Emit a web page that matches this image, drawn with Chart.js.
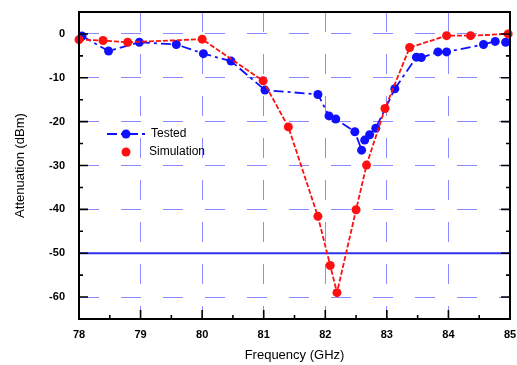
<!DOCTYPE html>
<html lang="en">
<head>
<meta charset="UTF-8">
<title>Attenuation vs Frequency</title>
<style>
  html, body { margin: 0; padding: 0; background: #fff; }
  #wrap { width: 517px; height: 365px; }
</style>
</head>
<body>
<div id="wrap"><canvas id="myChart" width="517" height="365"></canvas></div>

<script src="https://cdn.jsdelivr.net/npm/chart.js@4.4.1/dist/chart.umd.min.js"></script>
<script>
var testedFreq = [78.05, 78.48, 78.98, 79.58, 80.02, 80.47, 81.02, 81.88, 82.06, 82.17, 82.48, 82.59, 82.64, 82.72, 82.82, 83.13, 83.48, 83.56, 83.83, 83.97, 84.57, 84.76, 84.93];
var testedAtt  = [-0.5, -3.9, -1.9, -2.4, -4.5, -6.2, -12.8, -13.8, -18.7, -19.4, -22.3, -26.5, -24.2, -23.0, -21.5, -12.5, -5.3, -5.4, -4.1, -4.1, -2.4, -1.7, -1.9];

var simFreq = [78.0, 78.39, 78.79, 80.0, 80.99, 81.40, 81.88, 82.08, 82.19, 82.50, 82.67, 82.97, 83.37, 83.97, 84.36, 84.97];
var simAtt  = [-1.3, -1.5, -1.9, -1.2, -10.7, -21.2, -41.6, -52.8, -59.0, -40.1, -29.9, -17.0, -3.1, -0.4, -0.4, 0.0];

var limitFreq = [78, 85];
var limitAtt  = [-50, -50];

var xTicks = [78, 79, 80, 81, 82, 83, 84, 85];
var yTicks = [0, -10, -20, -30, -40, -50, -60];

function pairs(xs, ys) {
    return xs.map(function (x, i) { return { x: x, y: ys[i] }; });
}

var BLUE = '#1010ff';
var RED = '#ff1010';
var GRID = 'rgba(110,110,255,0.8)';

// frame, inward ticks and legend
var decorPlugin = {
    id: 'decor',
    afterDatasetsDraw: function (chart) {
        var ctx = chart.ctx;
        var a = chart.chartArea;
        var xs = chart.scales.x, ys = chart.scales.y;
        ctx.save();
        ctx.strokeStyle = '#000';
        ctx.lineWidth = 2;
        ctx.setLineDash([]);
        ctx.strokeRect(a.left, a.top, a.right - a.left, a.bottom - a.top);

        ctx.lineWidth = 1.6;
        ctx.beginPath();
        for (var v = 78; v <= 85.001; v += 0.5) {
            var px = xs.getPixelForValue(v);
            var len = (Math.abs(v - Math.round(v)) < 0.01) ? 9 : 4;
            ctx.moveTo(px, a.bottom);
            ctx.lineTo(px, a.bottom - len);
        }
        for (var w = -65; w <= 5.001; w += 5) {
            var py = ys.getPixelForValue(w);
            var len2 = (Math.abs(w % 10) < 0.01) ? 9 : 4;
            ctx.moveTo(a.left, py);
            ctx.lineTo(a.left + len2, py);
            ctx.moveTo(a.right, py);
            ctx.lineTo(a.right - len2, py);
        }
        ctx.stroke();

        // legend
        ctx.font = '12px "Liberation Sans", Arial, sans-serif';
        ctx.textBaseline = 'middle';
        ctx.fillStyle = '#000';
        ctx.strokeStyle = BLUE;
        ctx.lineWidth = 2;
        ctx.setLineDash([10, 4, 3, 4]);
        ctx.beginPath();
        ctx.moveTo(107, 134);
        ctx.lineTo(145, 134);
        ctx.stroke();
        ctx.setLineDash([]);
        ctx.fillStyle = BLUE;
        ctx.beginPath();
        ctx.arc(126, 134, 4.5, 0, Math.PI * 2);
        ctx.fill();
        ctx.fillStyle = RED;
        ctx.beginPath();
        ctx.arc(126, 152, 4.5, 0, Math.PI * 2);
        ctx.fill();
        ctx.fillStyle = '#000';
        ctx.fillText('Tested', 151, 134);
        ctx.fillText('Simulation', 149, 152);
        ctx.restore();
    }
};

var tickFont = { family: '"Liberation Sans", Arial, sans-serif', size: 11, weight: 'bold' };
var titleFont = { family: '"Liberation Sans", Arial, sans-serif', size: 13 };

new Chart(document.getElementById('myChart').getContext('2d'), {
    type: 'line',
    data: {
        datasets: [
            {
                label: 'Limit',
                data: pairs(limitFreq, limitAtt),
                borderColor: '#3030f0',
                borderWidth: 2,
                pointRadius: 0,
                order: 3
            },
            {
                label: 'Tested',
                data: pairs(testedFreq, testedAtt),
                borderColor: BLUE,
                backgroundColor: BLUE,
                borderWidth: 1.8,
                borderDash: [10, 4, 3, 4],
                pointRadius: 4.5,
                pointBorderWidth: 0,
                clip: 6,
                order: 2
            },
            {
                label: 'Simulation',
                data: pairs(simFreq, simAtt),
                borderColor: RED,
                backgroundColor: RED,
                borderWidth: 1.8,
                borderDash: [5, 2],
                pointRadius: 4.5,
                pointBorderWidth: 0,
                clip: 6,
                order: 1
            }
        ]
    },
    options: {
        responsive: false,
        animation: false,
        layout: { padding: { top: 12, right: 7, left: 0, bottom: 0 } },
        plugins: {
            legend: { display: false },
            tooltip: { enabled: false }
        },
        elements: { line: { tension: 0 } },
        scales: {
            x: {
                type: 'linear',
                min: 78,
                max: 85,
                afterBuildTicks: function (s) { s.ticks = xTicks.map(function (v) { return { value: v }; }); },
                afterFit: function (s) { s.height = 46; s.paddingLeft = 0; s.paddingRight = 0; },
                grid: { color: GRID, lineWidth: 1, drawTicks: false },
                border: { display: false, dash: [20, 22] },
                ticks: { color: '#000', font: tickFont, padding: 9, maxRotation: 0 },
                title: { display: true, text: 'Frequency (GHz)', color: '#000', font: titleFont, padding: { top: 0, bottom: 2 } }
            },
            y: {
                min: -65,
                max: 5,
                afterBuildTicks: function (s) { s.ticks = yTicks.map(function (v) { return { value: v }; }); },
                afterFit: function (s) { s.width = 79; s.paddingTop = 0; s.paddingBottom = 0; },
                grid: { color: GRID, lineWidth: 1, drawTicks: false },
                border: { display: false, dash: [20, 22] },
                ticks: { color: '#000', font: tickFont, padding: 14 },
                title: { display: true, text: 'Attenuation (dBm)', color: '#000', font: titleFont, padding: { top: 13, bottom: 0 } }
            }
        }
    },
    plugins: [decorPlugin]
});
</script>
</body>
</html>
